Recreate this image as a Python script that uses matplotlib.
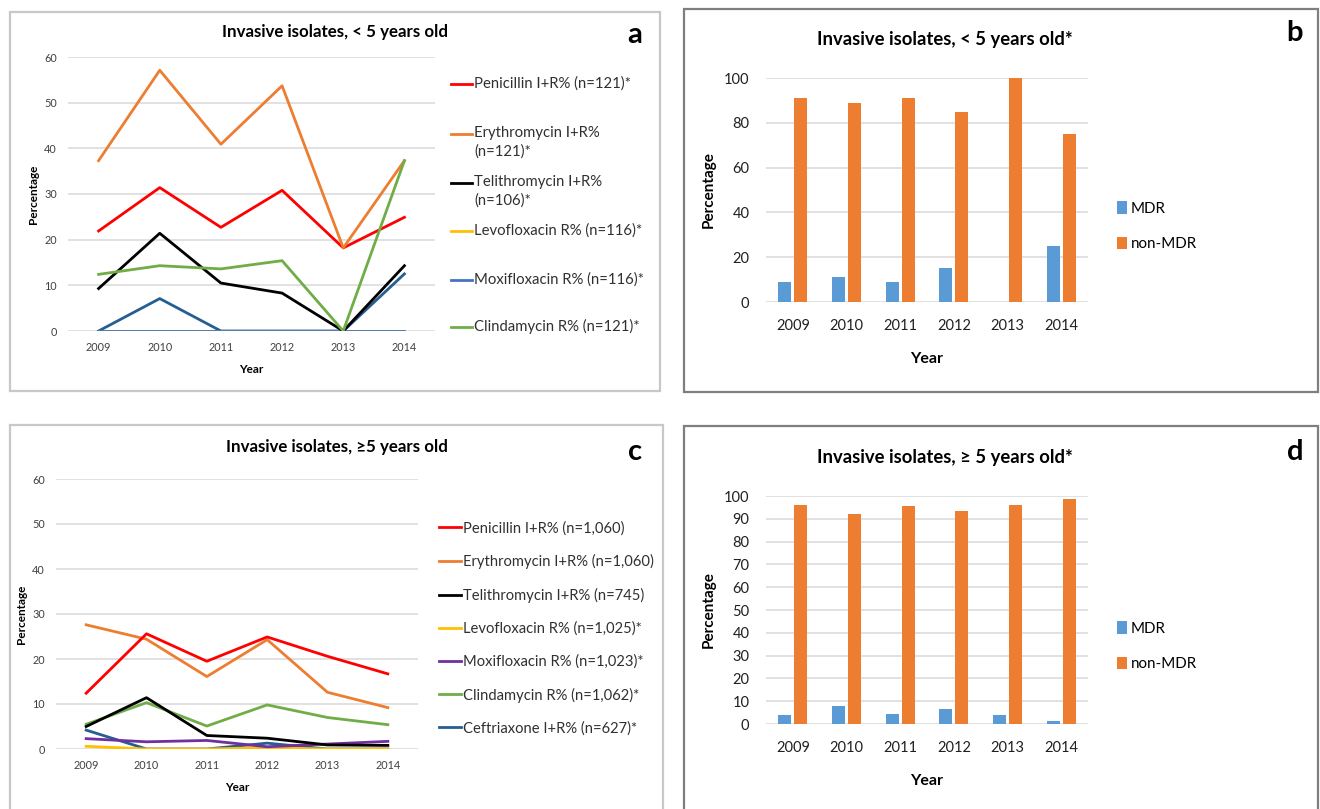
import matplotlib
matplotlib.use("Agg")
import matplotlib.pyplot as plt
from matplotlib.patches import Rectangle
from matplotlib.lines import Line2D

plt.rcParams['font.family'] = ['Lato', 'DejaVu Sans']

#Data
years = ["2009", "2010", "2011", "2012", "2013", "2014"]

#Panel a, < 5 years old
a_labels = ["Penicillin I+R% (n=121)*", "Erythromycin I+R%\n(n=121)*",
            "Telithromycin I+R%\n(n=106)*", "Levofloxacin R% (n=116)*",
            "Moxifloxacin R% (n=116)*", "Clindamycin R% (n=121)*"]
a_pen = [21.9, 31.4, 22.7, 30.8, 18.2, 24.9]
a_ery = [37.3, 57.1, 40.9, 53.7, 18.2, 37.3]
a_tel = [9.3, 21.4, 10.5, 8.3, 0.0, 14.3]
a_levo = [0.0, 0.0, 0.0, 0.0, 0.0, 0.0]
a_moxi = [0.0, 0.0, 0.0, 0.0, 0.0, 0.0]
a_clin = [12.4, 14.3, 13.6, 15.4, 0.0, 37.3]
a_ceft = [0.0, 7.1, 0.0, 0.0, 0.0, 12.5]

#Panel c, >=5 years old
c_labels = ["Penicillin I+R% (n=1,060)", "Erythromycin I+R% (n=1,060)",
            "Telithromycin I+R% (n=745)", "Levofloxacin R% (n=1,025)*",
            "Moxifloxacin R% (n=1,023)*", "Clindamycin R% (n=1,062)*",
            "Ceftriaxone I+R% (n=627)*"]
c_pen = [12.4, 25.6, 19.5, 24.9, 20.6, 16.7]
c_ery = [27.6, 24.4, 16.1, 24.3, 12.6, 9.2]
c_tel = [5.0, 11.4, 3.0, 2.4, 0.9, 0.8]
c_levo = [0.6, 0.0, 0.0, 0.3, 0.0, 0.0]
c_moxi = [2.3, 1.6, 1.9, 0.5, 1.1, 1.7]
c_clin = [5.5, 10.3, 5.1, 9.8, 7.0, 5.4]
c_ceft = [4.2, 0.0, 0.0, 1.3, 0.0, 0.0]

#Panels b and d, MDR vs non-MDR
b_mdr = [9.1, 11.1, 9.1, 15.4, 0.0, 25.0]
b_non = [90.9, 88.9, 90.9, 84.6, 100.0, 75.0]
d_mdr = [4.0, 8.1, 4.4, 6.6, 3.9, 1.4]
d_non = [96.0, 91.9, 95.6, 93.4, 96.1, 98.6]

W, H = 1320, 809
fig = plt.figure(figsize=(W / 100, H / 100), dpi=100)


def fx(px):
    return px / W


def fy(py):
    return 1 - py / H


def box(x0, y0, x1, y1, color):
    fig.add_artist(Rectangle((fx(x0), fy(y1)), fx(x1 - x0), (y1 - y0) / H,
                             transform=fig.transFigure, fill=False,
                             edgecolor=color, lw=1.6))


def make_ax(x0, y0, x1, y1):
    ax = fig.add_axes([fx(x0), fy(y1), fx(x1 - x0), (y1 - y0) / H])
    for s in ax.spines.values():
        s.set_visible(False)
    ax.yaxis.grid(True, color="#D9D9D9", lw=1.1)
    ax.set_axisbelow(True)
    ax.tick_params(length=0)
    return ax


#Panel borders
box(10, 12, 660, 391, "#C8C8C8")
box(10, 425, 663, 812, "#C8C8C8")
box(684, 9, 1318, 392, "#7F7F7F")
box(684, 426, 1318, 812, "#7F7F7F")

line_colors = ["#FF0000", "#ED7D31", "#000000", "#FFC000", "#4472C4", "#70AD47"]
idx = range(len(years))

#Panel a
ax = make_ax(68, 57, 435, 331)
ax.plot(idx, a_ceft, color="#255E91", lw=2)
series_a = [a_pen, a_ery, a_tel, a_levo, a_moxi, a_clin]
order_a = [3, 4, 0, 1, 2, 5]
for i in order_a:
    ax.plot(idx, series_a[i], color=line_colors[i], lw=2, label=a_labels[i])
ax.set_xlim(-0.5, 5.5)
ax.set_ylim(0, 60)
ax.set_xticks(list(idx))
ax.set_xticklabels(years)
ax.set_yticks(range(0, 61, 10))
ax.tick_params(labelsize=7.8, colors="#404040", pad=8)
ax.set_ylabel("Percentage", fontsize=8.5, fontweight="bold", labelpad=4)
ax.set_xlabel("Year", fontsize=8.5, fontweight="bold", labelpad=8)
fig.text(fx(335), fy(32), "Invasive isolates, < 5 years old", ha="center",
         va="center", fontsize=12.2, fontweight="bold")
fig.text(fx(635), fy(35), "a", ha="center", va="center", fontsize=21,
         fontweight="bold")

#Panel a legend (Excel spacing is uneven)
leg_y_a = [84, 134, 183, 231, 280, 327]
for i, lab in enumerate(a_labels):
    y = leg_y_a[i]
    fig.add_artist(Line2D([fx(451), fx(472)], [fy(y), fy(y)],
                          transform=fig.transFigure, color=line_colors[i], lw=2))
    fig.text(fx(474), fy(y - 8), lab, ha="left", va="top", fontsize=10.7,
             color="#303030", linespacing=1.35)

#Panel c
ax = make_ax(56, 479, 418, 749)
c_colors = ["#FF0000", "#ED7D31", "#000000", "#FFC000", "#7030A0", "#70AD47", "#255E91"]
series_c = [c_pen, c_ery, c_tel, c_levo, c_moxi, c_clin, c_ceft]
for i in [6, 3, 4, 5, 2, 1, 0]:
    ax.plot(idx, series_c[i], color=c_colors[i], lw=2, label=c_labels[i])
ax.set_xlim(-0.5, 5.5)
ax.set_ylim(0, 60)
ax.set_xticks(list(idx))
ax.set_xticklabels(years)
ax.set_yticks(range(0, 61, 10))
ax.tick_params(labelsize=7.8, colors="#404040", pad=8)
ax.set_ylabel("Percentage", fontsize=8.5, fontweight="bold", labelpad=4)
ax.set_xlabel("Year", fontsize=8.5, fontweight="bold", labelpad=8)
fig.text(fx(337), fy(447), "Invasive isolates, \u22655 years old", ha="center",
         va="center", fontsize=12.2, fontweight="bold")
fig.text(fx(635), fy(452), "c", ha="center", va="center", fontsize=21,
         fontweight="bold")

handles = [Line2D([], [], color=c, lw=2) for c in c_colors]
ax.legend(handles, c_labels, loc="upper left", bbox_to_anchor=(fx(433), fy(515)),
          bbox_transform=fig.transFigure, frameon=False, fontsize=10.6,
          handlelength=1.5, handletextpad=0.15, labelspacing=1.27,
          labelcolor="#303030", borderaxespad=0)


def bars(ax, mdr, non):
    w = 0.24
    x = list(idx)
    ax.bar([v - 0.15 for v in x], mdr, width=w, color="#5B9BD5", label="MDR")
    ax.bar([v + 0.15 for v in x], non, width=w, color="#ED7D31", label="non-MDR")
    ax.set_xlim(-0.5, 5.5)
    ax.set_ylim(0, 100)
    ax.set_xticks(x)
    ax.set_xticklabels(years)
    ax.tick_params(labelsize=10.5, colors="#202020", pad=12)
    ax.set_ylabel("Percentage", fontsize=11, fontweight="bold", labelpad=6)
    ax.set_xlabel("Year", fontsize=11.5, fontweight="bold", labelpad=14)


#Panel b
ax = make_ax(766, 78, 1088, 302)
bars(ax, b_mdr, b_non)
ax.set_yticks(range(0, 101, 20))
ax.legend(loc="upper left", bbox_to_anchor=(fx(1111), fy(195)),
          bbox_transform=fig.transFigure, frameon=False, fontsize=10.9,
          handlelength=0.65, handleheight=0.9, handletextpad=0.25,
          labelspacing=1.4, borderaxespad=0)
fig.text(fx(945), fy(40), "Invasive isolates, < 5 years old*", ha="center",
         va="center", fontsize=13.3, fontweight="bold")
fig.text(fx(1295), fy(33), "b", ha="center", va="center", fontsize=21,
         fontweight="bold")

#Panel d
ax = make_ax(766, 496, 1088, 724)
bars(ax, d_mdr, d_non)
ax.set_yticks(range(0, 101, 10))
ax.legend(loc="upper left", bbox_to_anchor=(fx(1111), fy(615)),
          bbox_transform=fig.transFigure, frameon=False, fontsize=10.9,
          handlelength=0.65, handleheight=0.9, handletextpad=0.25,
          labelspacing=1.4, borderaxespad=0)
fig.text(fx(945), fy(457), "Invasive isolates, \u2265 5 years old*", ha="center",
         va="center", fontsize=13.3, fontweight="bold")
fig.text(fx(1295), fy(452), "d", ha="center", va="center", fontsize=21,
         fontweight="bold")

plt.savefig("out.png", dpi=100)
